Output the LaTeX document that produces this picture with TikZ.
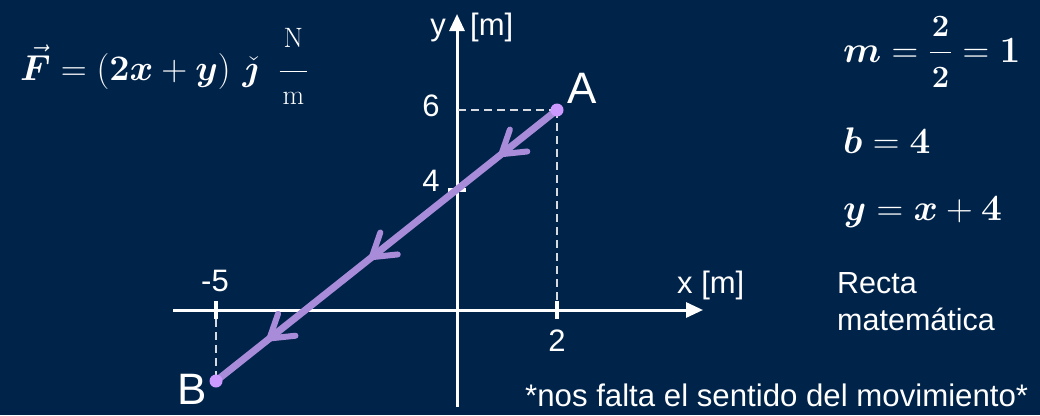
\RequirePackage{fix-cm}
\documentclass[tikz,border=0pt]{standalone}
\usepackage[no-math]{fontspec}
\setmainfont{Liberation Sans}
\usepackage{amsmath,bm}
\usetikzlibrary{arrows.meta,decorations.markings}
\definecolor{bg}{RGB}{0,35,73}
\definecolor{pathc}{RGB}{168,140,218}
\definecolor{dotc}{RGB}{204,153,255}
\definecolor{guidec}{RGB}{215,218,225}
\newcommand\sizedmath[2]{\mbox{\fontsize{#1}{#1}\selectfont$#2$}}
\begin{document}
\begin{tikzpicture}[x=1pt,y=-1pt,
  axis/.style={line width=3pt, white, -{Triangle[length=17pt,width=15pt]}},
  tickmark/.style={line width=3.5pt, white},
  guide/.style={guidec, line width=1.6pt, dash pattern=on 8pt off 5pt},
  lbl/.style={text=white, font=\fontsize{31}{36}\selectfont, inner sep=0pt},
  biglbl/.style={text=white, font=\fontsize{44}{50}\selectfont, inner sep=0pt},
  txt/.style={text=white, font=\fontsize{30.5}{36}\selectfont, inner sep=0pt},
  eq/.style={text=white, font=\fontsize{37}{44}\selectfont, inner sep=0pt},
  pointdot/.style={circle, fill=dotc, minimum size=13pt, inner sep=0pt},
  motion/.style={pathc, line width=7pt, postaction={decorate},
    decoration={markings,
      mark=at position 0.17 with {\arrow{Straight Barb[length=22pt,width=28pt,line width=6pt,round]}},
      mark=at position 0.55 with {\arrow{Straight Barb[length=22pt,width=28pt,line width=6pt,round]}},
      mark=at position 0.85 with {\arrow{Straight Barb[length=22pt,width=28pt,line width=6pt,round]}}}}
]
\fill[bg] (0,0) rectangle (1040,415);
\useasboundingbox (0,0) rectangle (1040,415);

% coordinates
\coordinate (O) at (457,310);
\coordinate (xs) at (173,310);
\coordinate (xe) at (703,310);
\coordinate (ys) at (457,407);
\coordinate (ye) at (457,14);
\coordinate (pA) at (557,110);
\coordinate (pB) at (216,381);
\coordinate (t2) at (557,310);
\coordinate (t5) at (216,310);
\coordinate (t4) at (457,190);

% axes
\draw[axis] (xs) -- (xe);
\draw[axis] (ys) -- (ye);

% guides
\draw[guide] (pA) -- (pA -| O);
\draw[guide] (pA) -- ([yshift=9pt]t2);
\draw[guide] ([yshift=-9pt]t5) -- (pB);

% ticks
\draw[tickmark] ([yshift=9pt]t2) -- ([yshift=-9pt]t2);
\draw[tickmark] ([yshift=9pt]t5) -- ([yshift=-9pt]t5);
\draw[tickmark] ([xshift=-9pt]t4) -- ([xshift=9pt]t4);

% motion line
\draw[motion] (pA) -- (pB);
\node[pointdot] (A) at (pA) {};
\node[pointdot] (B) at (pB) {};

% labels
\node[lbl, anchor=base east] (ylab) at (446,35) {y};
\node[lbl, anchor=base west] (yunit) at (470,35) {[m]};
\node[lbl, anchor=base west] (xlab) at (677,293) {x [m]};
\node[lbl] (l6) at (431,106) {6};
\node[lbl] (l4) at (431,181) {4};
\node[lbl] (l5) at (215,281) {-5};
\node[lbl] (l2) at (557,341) {2};
\node[biglbl] (Alab) at (582,88) {A};
\node[biglbl] (Blab) at (192,389) {B};

\node[txt, anchor=base west] (r1) at (837,293) {Recta};
\node[txt, anchor=base west] (r2) at (837,330) {matemática};
\node[txt, anchor=base west, font=\fontsize{31.2}{36}\selectfont] (note) at (525,406) {*nos falta el sentido del movimiento*};

% formulas
\node[text=white, font=\fontsize{36}{42}\selectfont, inner sep=0pt, anchor=base west] (force) at (20,80)
  {$\vec{\bm F} = (\bm{2x}+\bm y)\,\,\check{\bm\jmath}\;\;\dfrac{\raisebox{8pt}{\sizedmath{28}{\mathrm{N}}}}{\hspace{3pt}\sizedmath{28}{\mathrm{m}}\hspace{3pt}}$};
\node[eq, anchor=base west] (meq) at (843,62) {$\bm m = \dfrac{\sizedmath{31}{\mathbf{2}}}{\hspace{2pt}\sizedmath{31}{\mathbf{2}}\hspace{2pt}} = \mathbf{1}$};
\node[eq, anchor=base west] (beq) at (843,153) {$\bm b = \mathbf{4}$};
\node[eq, anchor=base west] (yeq) at (843,220) {$\bm y = \bm x + \mathbf{4}$};
\end{tikzpicture}
\end{document}
